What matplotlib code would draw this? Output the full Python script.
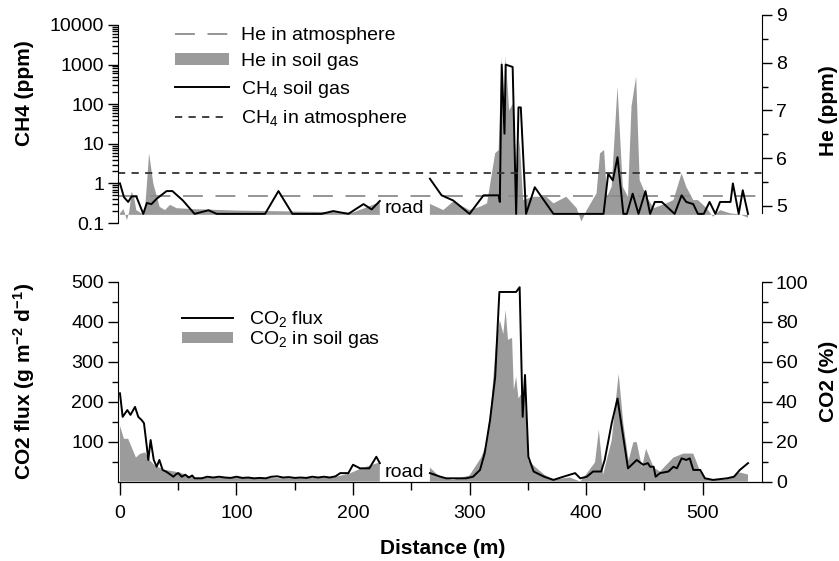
import numpy as np
import matplotlib
matplotlib.use("Agg")
import matplotlib.pyplot as plt
from matplotlib.lines import Line2D
from matplotlib.patches import Patch
from matplotlib.ticker import FixedLocator, FixedFormatter, NullFormatter

plt.rcParams['font.family'] = ['Liberation Sans', 'DejaVu Sans']
plt.rcParams['mathtext.fontset'] = 'custom'
plt.rcParams['mathtext.rm'] = 'Liberation Sans'
plt.rcParams['mathtext.it'] = 'Liberation Sans:italic'
plt.rcParams['mathtext.bf'] = 'Liberation Sans:bold'

nan = np.nan

# --- top panel: CH4 soil gas (ppm, log) and He soil gas (ppm) ---
ch4_dist = [0, 3.4, 7, 10, 14, 20, 23, 27, 31.5, 40, 45, 54, 64, 76, 83, 97, 114, 124.5,
            136, 148, 166, 173, 183, 196, 209, 216, 223, nan,
            266, 276, 286, 300, 312, 325, 326, 327.6, 330, 331, 337, 340, 342, 344, 348.5,
            356, 372, 415, 419, 423, 427, 432, 435, 440, 445, 451, 455, 459, 465, 476,
            482, 486, 492, 496, 501, 506, 511, 515, 524, 526, 531, 534.5, 539]
ch4_ppm = [1.0, 0.45, 0.34, 0.47, 0.47, 0.17, 0.32, 0.30, 0.41, 0.64, 0.64, 0.37, 0.17, 0.21,
           0.17, 0.17, 0.17, 0.17, 0.64, 0.17, 0.17, 0.17, 0.20, 0.17, 0.30, 0.22, 0.36, nan,
           1.31, 0.50, 0.37, 0.17, 0.50, 0.50, 0.34, 1000, 18, 1000, 870, 0.17, 83, 83, 0.17,
           0.80, 0.17, 0.17, 1.75, 1.19, 4.6, 0.17, 0.17, 0.55, 0.17, 0.64, 0.17, 0.34, 0.34,
           0.17, 0.50, 0.34, 0.30, 0.17, 0.17, 0.34, 0.17, 0.34, 0.34, 1.0, 0.17, 0.67, 0.17]

he_dist = [0, 3, 6, 8, 10, 12, 14, 18.6, 21.5, 25, 28.6, 34, 38.6, 43, 48.6, 63, 100, 150,
           200, 210, 223, nan,
           266, 277.5, 286, 300, 309, 315, 322, 325, 327.6, 329, 331, 334, 337.6, 340.5,
           343, 346, 355, 366, 372, 383, 392, 396, 400.6, 409, 412, 415.5, 418, 422, 427,
           431.5, 436, 439, 443, 446, 452, 458, 469, 475, 482, 486, 492, 496, 503.5, 509,
           515, 524, 532, 539]
he_ppm = [4.84, 4.93, 4.70, 4.88, 5.30, 5.19, 4.91, 4.84, 4.91, 6.10, 5.47, 4.98, 4.91, 5.02,
          4.95, 4.93, 4.90, 4.88, 4.86, 4.95, 5.08, nan,
          5.04, 4.91, 5.09, 4.91, 4.98, 5.05, 6.10, 6.17, 8.13, 6.80, 8.13, 7.00, 7.15, 5.54,
          6.38, 5.12, 5.19, 5.19, 5.05, 5.19, 4.95, 4.67, 4.91, 5.26, 6.10, 6.17, 5.19, 5.40,
          7.50, 5.40, 5.19, 7.08, 7.71, 5.54, 5.19, 4.95, 5.05, 5.12, 5.68, 5.40, 5.12, 5.12,
          4.95, 4.77, 4.91, 4.84, 4.82, 4.75]

he_atm = 5.2
ch4_atm = 1.8
he_base = 4.81

# --- bottom panel: CO2 flux (g m-2 d-1) and CO2 in soil gas (%) ---
flux_dist = [0, 2.3, 6.3, 9, 12.9, 15.7, 18.6, 20.6, 23, 24.3, 26.3, 29, 31.5, 33.8, 36.6,
             40, 43, 45.8, 48, 50, 53, 56, 59, 62, 64, 66, 70, 75, 80, 85, 90, 95, 100, 105,
             110, 115, 120, 125, 130, 135, 140, 145, 150, 155, 160, 165, 170, 175, 180, 185,
             189, 196, 200, 206, 214, 220, 223, nan,
             266, 275, 280, 297, 303, 309, 313, 317.6, 322, 325.6, 340, 343, 345.6, 347.6,
             350.5, 355, 364, 372, 380.5, 390.6, 395, 400.6, 406, 413, 416, 422, 427, 430.6,
             436, 443.5, 449, 453, 455, 458, 459.7, 463.5, 470.7, 475, 478, 482, 486, 489,
             492, 498, 502, 509, 521, 527, 532, 539]
flux = [221, 162, 179, 167, 187, 162, 154, 146, 88, 54, 104, 54, 37, 54, 29,
        24, 18, 12, 18, 21, 12, 17, 10, 15, 8, 8, 8, 12, 10, 12, 10, 9, 12, 9,
        10, 8, 9, 8, 12, 13, 10, 11, 9, 10, 9, 12, 10, 12, 10, 13,
        21, 21, 42, 33, 33, 62, 46, nan,
        21, 12, 8, 8, 12, 29, 71, 154, 262, 475, 475, 487, 162, 267,
        62, 25, 12, 4, 12, 21, 8, 12, 25, 25, 54, 146, 208, 137,
        33, 54, 42, 46, 37, 37, 12, 21, 25, 37, 33, 58, 54, 58,
        29, 29, 8, 4, 8, 12, 29, 46]

co2_dist = [0, 3.4, 7, 13.7, 17, 21.5, 25.8, 30, 37, 51.5, 63, 100, 150, 183, 197, 206, 223, nan,
            266, 275, 286, 300, 310, 314.5, 319, 322.7, 326, 329, 331, 333, 336.5, 338, 340,
            342, 345.6, 347.6, 350.5, 356, 364, 372, 386, 395, 400, 407.7, 411, 414.6, 422,
            428, 432, 436.5, 440.6, 443.5, 448, 451.5, 458, 463.5, 475, 483.5, 492, 498, 504,
            520, 532, 539]
co2_pct = [28, 21.4, 21.4, 12, 13.8, 14.6, 10.5, 8, 6, 4.5, 2, 1.8, 1.6, 2, 4, 6.3, 9.6, nan,
           7, 2, 0.8, 3, 12, 19, 41, 69, 81, 74, 86, 71, 72, 46, 52.5,
           41.6, 45, 41, 10.5, 7.5, 3.5, 1, 2, 0, 3.5, 9.6, 26, 3.5, 20.5,
           54, 29, 10.5, 19.7, 19.7, 7, 16.4, 7, 5, 12, 14, 14, 5, 1,
           1, 4.5, 3.5]

GRAY = '#9b9b9b'
FS = 14
LFS = 15

fig = plt.figure(figsize=(8.39, 5.61), dpi=100)
W, H = 839, 561


def rect(x0, y0, x1, y1):
    return [x0 / W, 1 - y1 / H, (x1 - x0) / W, (y1 - y0) / H]


xlim = (-1.7, 551)

# ---------------- top panel ----------------
ax1 = fig.add_axes(rect(118, 15, 762, 223))
ax1r = ax1.twinx()
ax1.set_zorder(ax1r.get_zorder() + 1)
ax1.patch.set_visible(False)

hx = np.array(he_dist, dtype=float)
hy = np.ma.masked_invalid(np.array(he_ppm, dtype=float))
ax1r.fill_between(hx, hy, he_base, color=GRAY, lw=0, clip_on=False)
ax1r.axhline(he_atm, color='#8c8c8c', lw=1.3, dashes=(11, 7))
ax1r.set_ylim(9 - 208 / 47.7, 9)

ax1.plot(ch4_dist, ch4_ppm, color='black', lw=1.4)
ax1.axhline(ch4_atm, color='#333333', lw=1.3, dashes=(4, 3.5))
ax1.set_yscale('log')
ax1.set_ylim(0.1, 10 ** 4.252)
ax1.set_xlim(*xlim)

ax1.text(244, 0.175, 'road', fontsize=FS, ha='center', va='baseline',
         bbox=dict(facecolor='white', edgecolor='none', pad=0.5), zorder=5)

for s in ['top', 'bottom']:
    ax1.spines[s].set_visible(False)
    ax1r.spines[s].set_visible(False)
ax1r.spines['left'].set_visible(False)
ax1.spines['right'].set_visible(False)
ax1.spines['left'].set_bounds(0.1, 10000)
ax1r.spines['right'].set_bounds(4.85, 9)
ax1.tick_params(axis='x', bottom=False, labelbottom=False)

ax1.yaxis.set_major_locator(FixedLocator([0.1, 1, 10, 100, 1000, 10000]))
ax1.yaxis.set_major_formatter(FixedFormatter(['0.1', '1', '10', '100', '1000', '10000']))
log_minor = [m * 10.0 ** e for e in range(-1, 4) for m in range(2, 10)]
ax1.yaxis.set_minor_locator(FixedLocator(log_minor))
ax1.yaxis.set_minor_formatter(NullFormatter())

ax1r.yaxis.set_major_locator(FixedLocator([5, 6, 7, 8, 9]))
ax1r.yaxis.set_minor_locator(FixedLocator([5.5, 6.5, 7.5, 8.5]))

for a in (ax1, ax1r):
    a.tick_params(which='major', length=7, width=1, labelsize=FS, pad=3)
    a.tick_params(which='minor', length=4, width=1)

leg1 = [Line2D([], [], color='#8c8c8c', lw=1.3, dashes=(11, 7)),
        Patch(facecolor=GRAY, edgecolor='none'),
        Line2D([], [], color='black', lw=1.4),
        Line2D([], [], color='#333333', lw=1.3, dashes=(4, 3.5))]
lab1 = ['He in atmosphere', 'He in soil gas', 'CH$_4$ soil gas', 'CH$_4$ in atmosphere']
fig.legend(leg1, lab1, loc='upper left', bbox_to_anchor=(175 / W, 1 - 27 / H),
           frameon=False, fontsize=FS, handlelength=2.8, handletextpad=0.6,
           handleheight=0.55, labelspacing=0.45, borderpad=0, borderaxespad=0)

# ---------------- bottom panel ----------------
ax2 = fig.add_axes(rect(118, 282, 762, 481.5))
ax2r = ax2.twinx()
ax2.set_zorder(ax2r.get_zorder() + 1)
ax2.patch.set_visible(False)

cx = np.array(co2_dist, dtype=float)
cy = np.ma.masked_invalid(np.array(co2_pct, dtype=float))
ax2r.fill_between(cx, cy, 0, color=GRAY, lw=0)
ax2r.set_ylim(0, 100)

ax2.plot(flux_dist, flux, color='black', lw=1.4)
ax2.set_ylim(0, 500)
ax2.set_xlim(*xlim)

ax2.text(244, 12, 'road', fontsize=FS, ha='center', va='baseline',
         bbox=dict(facecolor='white', edgecolor='none', pad=0.5), zorder=5)

ax2.spines['top'].set_visible(False)
ax2r.spines['top'].set_visible(False)
ax2.spines['right'].set_visible(False)
ax2r.spines['left'].set_visible(False)

ax2.yaxis.set_major_locator(FixedLocator([100, 200, 300, 400, 500]))
ax2.yaxis.set_minor_locator(FixedLocator([50, 150, 250, 350, 450]))
ax2r.yaxis.set_major_locator(FixedLocator([0, 20, 40, 60, 80, 100]))
ax2r.yaxis.set_minor_locator(FixedLocator([10, 30, 50, 70, 90]))
ax2.xaxis.set_major_locator(FixedLocator([0, 100, 200, 300, 400, 500]))
ax2.xaxis.set_minor_locator(FixedLocator([50, 150, 250, 350, 450]))

for a in (ax2, ax2r):
    a.tick_params(which='major', length=7, width=1, labelsize=FS, pad=3)
    a.tick_params(which='minor', length=4, width=1)
ax2.tick_params(axis='x', which='major', length=9, pad=8)
ax2.tick_params(axis='x', which='minor', length=6)

leg2 = [Line2D([], [], color='black', lw=1.4),
        Patch(facecolor=GRAY, edgecolor='none')]
lab2 = ['CO$_2$ flux', 'CO$_2$ in soil gas']
fig.legend(leg2, lab2, loc='upper left', bbox_to_anchor=(182 / W, 1 - 309 / H),
           frameon=False, fontsize=FS, handlelength=2.6, handletextpad=0.85,
           handleheight=0.55, labelspacing=0.02, borderpad=0, borderaxespad=0)

# axis titles
fig.text(25 / W, 1 - 93 / H, 'CH4 (ppm)', rotation=90, fontsize=LFS, fontweight='bold',
         ha='center', va='center')
fig.text(829 / W, 1 - 111 / H, 'He (ppm)', rotation=90, fontsize=LFS, fontweight='bold',
         ha='center', va='center')
fig.text(24 / W, 1 - 381 / H, 'CO2 flux (g m$^{\\mathbf{-2}}$ d$^{\\mathbf{-1}}$)', rotation=90,
         fontsize=LFS, fontweight='bold', ha='center', va='center')
fig.text(829 / W, 1 - 381 / H, 'CO2 (%)', rotation=90, fontsize=LFS, fontweight='bold',
         ha='center', va='center')
fig.text(443 / W, 1 - 548 / H, 'Distance (m)', fontsize=LFS, fontweight='bold',
         ha='center', va='center')

fig.savefig('out.png', dpi=100)
